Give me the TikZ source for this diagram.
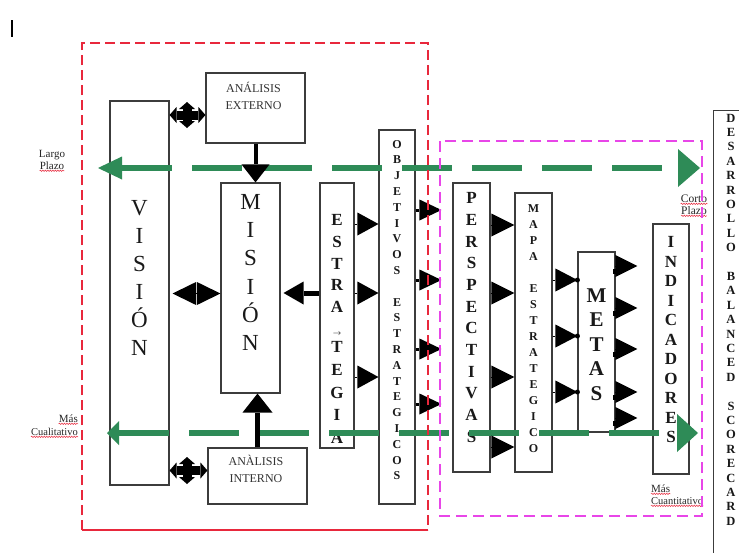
\documentclass[tikz,border=0pt]{standalone}
\usepackage{fontspec}
\setmainfont{Liberation Serif}
\usetikzlibrary{arrows.meta,decorations.pathmorphing}
\definecolor{grn}{RGB}{46,139,87}
\definecolor{redd}{RGB}{232,40,60}
\definecolor{mag}{RGB}{232,70,232}
\definecolor{bx}{RGB}{60,60,60}
\newcommand\vtext[8]{\foreach \c [count=\i from 0] in {#8} {\node[lt=#7, font=#6\fontsize{#5}{#5}\selectfont] (#1\i) at (#2,{#3+\i*#4}) {\c};}}
\begin{document}
\begin{tikzpicture}[x=1pt,y=-1pt,
  box/.style={draw=bx, line width=1.1pt, fill=white, inner sep=0pt},
  lt/.style={inner sep=0pt, text height=#1, text depth=0pt, text=black!90},
  lbl/.style={inner sep=0pt, anchor=base, font=\fontsize{11}{12}\selectfont, text=black!85},
  atext/.style={inner sep=0pt, anchor=base, font=\fontsize{12}{12}\selectfont, text=black!80},
  squig/.style={draw=redd, line width=0.5pt, decorate, decoration={snake, amplitude=0.7pt, segment length=2.5pt}},
  gline/.style={draw=grn, line width=6.5pt, dash pattern=on 50pt off 20pt},
  plus/.style={line width=9pt, {Triangle[length=7pt,width=16pt,line width=0pt]}-{Triangle[length=7pt,width=16pt,line width=0pt]}},
  tri/.style={line width=1pt, -{Triangle[length=#1,width=23pt,line width=0pt]}},
  tri/.default=21pt
]
\useasboundingbox (0,0) rectangle (739,552);
\fill[white] (0,0) rectangle (739,552);

% cursor mark
\draw[line width=1.6pt] (12,20) -- (12,37);

% boxes
\node[box, minimum width=59pt, minimum height=384pt] (vision) at (139.5,293) {};
\node[box, minimum width=59pt, minimum height=210pt] (mision) at (250.5,288) {};
\node[box, minimum width=99pt, minimum height=70pt] (ext) at (255.5,108) {};
\node[box, minimum width=99pt, minimum height=56pt] (int) at (257.5,476) {};
\node[box, minimum width=34pt, minimum height=265pt] (estr) at (337,315.5) {};
\node[box, minimum width=36pt, minimum height=374pt] (obj) at (397,317) {};
\node[box, minimum width=37pt, minimum height=289pt] (persp) at (471.5,327.5) {};
\node[box, minimum width=37pt, minimum height=279pt] (mapa) at (533.5,332.5) {};
\node[box, minimum width=37pt, minimum height=180pt] (metas) at (596.5,342) {};
\node[box, minimum width=36pt, minimum height=250pt] (ind) at (671,349) {};
\node[box, minimum width=40pt, minimum height=460pt, anchor=north west] (desa) at (713,110) {};

% box texts
\node[atext] (extA) at (253.5,92) {ANÁLISIS};
\node[atext] (extB) at (253.5,109) {EXTERNO};
\node[atext] (intA) at (256,465) {ANÀLISIS};
\node[atext] (intB) at (256,482) {INTERNO};

\vtext{vi}{139.5}{208}{28}{23}{}{15pt}{V,I,S,I,Ó,N}
\vtext{mi}{250.5}{202}{28.2}{23}{}{15pt}{M,I,S,I,Ó,N}
\vtext{esa}{337}{220}{21.7}{17}{\bfseries}{11.3pt}{E,S,T,R,A}
\vtext{esb}{337}{347}{22.7}{17}{\bfseries}{11.3pt}{T,E,G,I,A}
\node[inner sep=0pt, font=\fontsize{8}{8}\selectfont] (vecT) at (337,334) {$\rightarrow$};
\vtext{ob}{397}{144}{15.8}{12}{\bfseries}{8pt}{O,B,J,E,T,I,V,O,S,{},E,S,T,R,A,T,E,G,I,C,O,S}
\vtext{pe}{471.5}{198}{21.7}{17}{\bfseries}{11.3pt}{P,E,R,S,P,E,C,T,I,V,A,S}
\vtext{ma}{533.5}{208}{16}{12}{\bfseries}{8pt}{M,A,P,A,{},E,S,T,R,A,T,E,G,I,C,O}
\vtext{me}{596.5}{295}{24.5}{21}{\bfseries}{14pt}{M,E,T,A,S}
\vtext{in}{671}{242}{19.5}{17}{\bfseries}{11.3pt}{I,N,D,I,C,A,D,O,R,E,S}
\vtext{de}{731}{118}{14.4}{12.5}{\bfseries}{8.3pt}{D,E,S,A,R,R,O,L,L,O,{},B,A,L,A,N,C,E,D,{},S,C,O,R,E,C,A,R,D}

% side labels
\node[lbl] (largo) at (52,157) {Largo};
\node[lbl] (plazoL) at (52,169) {Plazo};
\node[lbl, anchor=base east] (masL) at (78,422) {Más};
\node[lbl, anchor=base east, font=\fontsize{10.5}{12}\selectfont] (cualit) at (78,435) {Cualitativo};
\node[lbl, font=\fontsize{11.5}{12}\selectfont] (corto) at (694,202) {Corto};
\node[lbl, font=\fontsize{11.5}{12}\selectfont] (plazoR) at (694,214) {Plazo};
\node[lbl, anchor=base west] (masR) at (651,492) {Más};
\node[lbl, anchor=base west, font=\fontsize{10.5}{12}\selectfont] (cuant) at (651,504) {Cuantitativo};
\foreach \n in {plazoL,masL,cualit,corto,plazoR,masR,cuant}
  \draw[squig] ([yshift=-1.5pt]\n.south west) -- ([yshift=-1.5pt]\n.south east);

% green arrows
\coordinate (gl1) at (98,168);
\coordinate (gr1) at (700,168);
\coordinate (gl2) at (107,433);
\coordinate (gr2) at (698,433);
\draw[gline, {Triangle[length=24pt,width=23pt,line width=0pt]}-{Triangle[length=22pt,width=38pt,line width=0pt]}] (gl1) -- (gr1);
\draw[gline, {Triangle[length=12pt,width=24pt,line width=0pt]}-{Triangle[length=21pt,width=38pt,line width=0pt]}] (gl2) -- (gr2);

% four-way arrows
\coordinate (pu1) at (187,102);
\coordinate (pd1) at (187,128);
\coordinate (pu2) at (187,457);
\coordinate (pd2) at (187,484);
\draw[plus] (vision.east |- 0,115) -- (ext.west |- 0,115);
\draw[plus] (pu1) -- (pd1);
\draw[plus] (vision.east |- 0,470.5) -- (int.west |- 0,470.5);
\draw[plus] (pu2) -- (pd2);

% vision <-> mision
\draw[line width=1pt, shorten <=3pt, {Triangle[length=23.5pt,width=23pt,line width=0pt]}-{Triangle[length=23.5pt,width=23pt,line width=0pt]}] (vision.east |- 0,293.5) -- (mision.west |- 0,293.5);
% estrategia -> mision
\draw[line width=5pt, shorten >=3pt, -{Triangle[length=20pt,width=23pt,line width=0pt]}] (estr.west |- 0,293) -- (mision.east |- 0,293);
% analisis -> mision
\draw[line width=4pt, -{Triangle[length=18pt,width=28pt,line width=0pt]}] (ext.south) -- (ext.south |- mision.north);
\draw[line width=5pt, -{Triangle[length=19pt,width=30pt,line width=0pt]}] (int.north) -- (int.north |- mision.south);

% estrategia -> objetivos
\foreach \y in {224,293,377} \draw[tri] (estr.east |- 0,\y) -- (obj.west |- 0,\y);
% objetivos -> perspectivas
\foreach \y in {210,280,349,404} \draw[line width=3pt, shorten >=11pt, -{Triangle[length=22pt,width=21pt,line width=0pt]}] (obj.east |- 0,\y) -- (persp.west |- 0,\y);
% perspectivas -> mapa
\foreach \y in {225,293,377,447} \draw[tri=23pt] (persp.east |- 0,\y) -- (mapa.west |- 0,\y);
% mapa -> metas
\foreach \y in {280,336,392} {\draw[tri=22pt] (mapa.east |- 0,\y) -- (metas.west |- 0,\y);
  \fill (metas.west |- 0,\y) circle (2.5pt);}
% metas -> indicadores
\foreach \y in {266,308,349,392,418} {\draw[line width=1pt, shorten >=15pt, -{Triangle[length=22pt,width=22pt,line width=0pt]}] (metas.east |- 0,\y) -- (ind.west |- 0,\y);
  \fill ([xshift=-2.5pt,yshift=-2.5pt]metas.east |- 0,\y) rectangle ++(5,5);}

% dashed frames
\draw[redd, line width=1.2pt, dash pattern=on 10pt off 5pt] (82,530) -- (82,43) -- (428,43) -- (428,530);
\draw[redd, line width=1.2pt] (82,530) -- (428,530);
\draw[mag, line width=1.3pt, dash pattern=on 11pt off 6pt] (440,141) rectangle (702,516);
\end{tikzpicture}
\end{document}
